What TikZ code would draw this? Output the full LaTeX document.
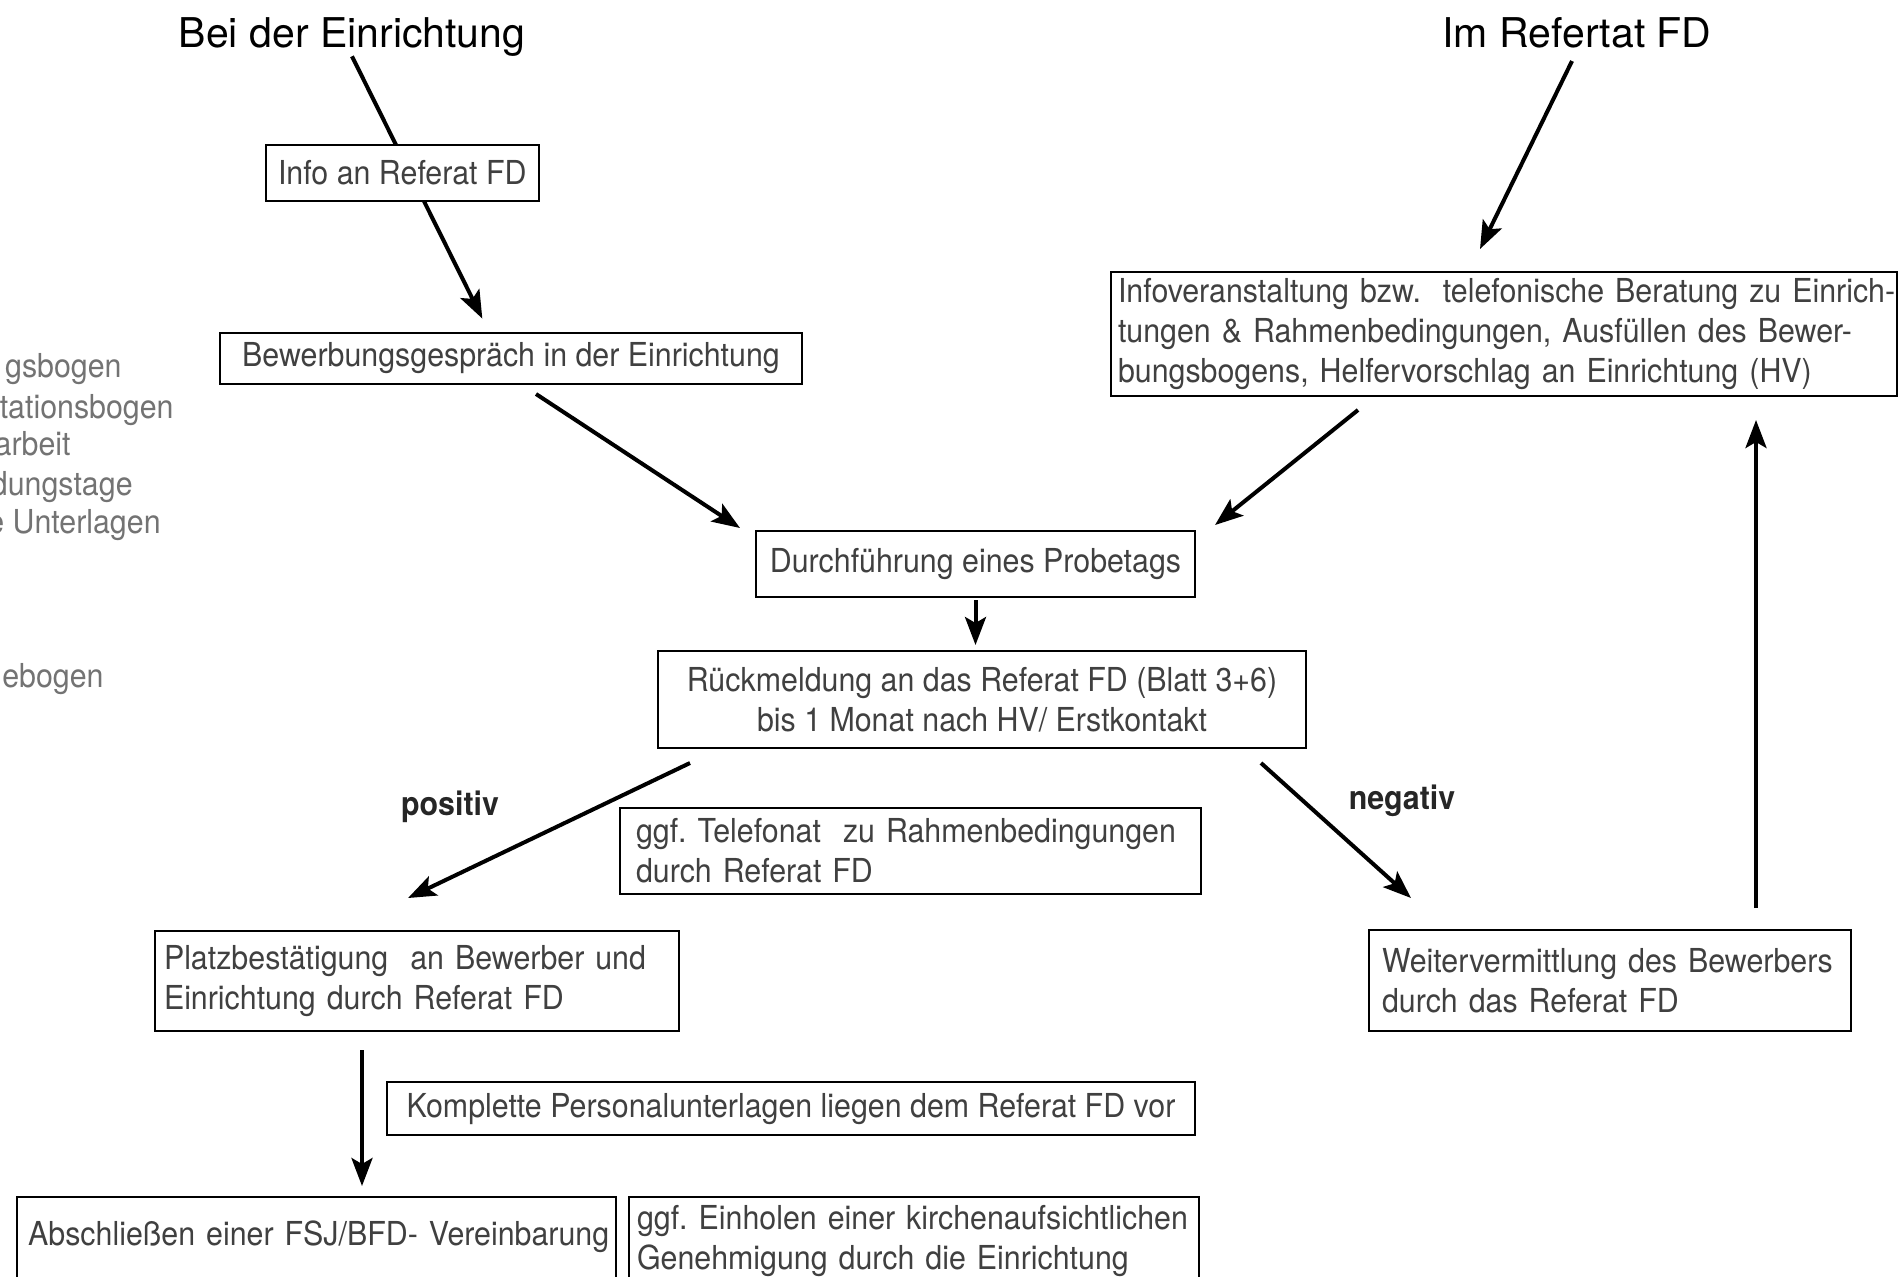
\documentclass[tikz,border=0pt]{standalone}
\usepackage{fontspec}
\setmainfont{TeX Gyre Heros}
\newfontfamily\narrowfont[FakeStretch=0.92]{TeX Gyre Heros}
\usetikzlibrary{positioning, arrows.meta, calc, backgrounds}
\definecolor{txtgray}{gray}{0.25}
\definecolor{fraggray}{gray}{0.45}
\tikzset{
    base/.style={draw, line width=1pt, fill=white, text=txtgray, font=\narrowfont\fontsize{16.5}{20}\selectfont\frenchspacing, anchor=north west},
    box/.style={base, align=center, inner xsep=6pt, inner ysep=3pt},
    leftbox/.style={base, align=left, inner ysep=3pt},
    title/.style={font=\fontsize{20.5}{24}\selectfont, anchor=base, inner sep=0pt},
    lbl/.style={font=\narrowfont\bfseries\fontsize{16.5}{20}\selectfont, text=black!85},
    frag/.style={font=\narrowfont\fontsize{16.5}{20}\selectfont, text=fraggray, anchor=mid east, inner sep=0pt},
    arrow/.style={-{Stealth[length=14pt, width=10.5pt, inset=3pt]}, line width=2pt}
}

\begin{document}
\begin{tikzpicture}[x=0.5pt, y=-0.5pt]
    \path[use as bounding box, clip] (0,0) rectangle (1898,1276);

    % Titles
    \node [title] (einr) at (352,47) {Bei der Einrichtung};
    \node [title] (refd) at (1577,47) {Im Refertat FD};

    % Left column
    \node [box, minimum width=136pt, minimum height=28pt] (info) at (265,144) {Info an Referat FD};
    \node [box, minimum width=291pt, minimum height=25.5pt] (bew) at (219,332) {Bewerbungsgespräch in der Einrichtung};

    % Right column
    \node [leftbox, text width=386pt, inner xsep=3.5pt, minimum height=62pt] (info2) at (1110,271)
        {\mbox{Infoveranstaltung bzw.\ \ telefonische Beratung zu Einrich-}\\tungen \& Rahmenbedingungen, Ausfüllen des Bewer-\\bungsbogens, Helfervorschlag an Einrichtung (HV)};

    % Middle
    \node [box, minimum width=219.5pt, minimum height=33pt] (durch) at (755,530) {Durchführung eines Probetags};
    \node [box, minimum width=324pt, minimum height=48.5pt] (rueck) at (657,650)
        {Rückmeldung an das Referat FD (Blatt 3+6)\\bis 1 Monat nach HV/ Erstkontakt};
    \node [leftbox, text width=274.5pt, inner xsep=8pt, minimum height=43pt] (tele) at (619,807)
        {\mbox{ggf. Telefonat\ \ zu Rahmenbedingungen}\\durch Referat FD};

    % Outcomes
    \node [leftbox, text width=253pt, inner xsep=4.5pt, minimum height=50pt] (plat) at (154,930)
        {Platzbestätigung\ \ an Bewerber und\\Einrichtung durch Referat FD};
    \node [leftbox, text width=228pt, inner xsep=6.5pt, minimum height=50.5pt] (weiter) at (1368,929)
        {\mbox{Weitervermittlung des Bewerbers}\\durch das Referat FD};
    \node [lbl] (lpos) at (450,807) {positiv};
    \node [lbl] (lneg) at (1402,801) {negativ};

    % Bottom
    \node [box, minimum width=404pt, minimum height=26.5pt] (kompl) at (386,1081) {Komplette Personalunterlagen liegen dem Referat FD vor};
    \node [leftbox, text width=288.5pt, inner xsep=5.5pt, inner ysep=10pt, text height=14pt, text depth=40pt] (abs) at (16,1196)
        {\mbox{Abschließen einer FSJ/BFD- Vereinbarung}};
    \node [leftbox, text width=277pt, inner xsep=4pt, inner ysep=2pt, text height=14pt, text depth=40pt] (einh) at (628,1196)
        {\mbox{ggf. Einholen einer kirchenaufsichtlichen}\\Genehmigung durch die Einrichtung};

    % Cut-off list at the left edge
    \node [frag] (f1) at (122,372) {gsbogen};
    \node [frag] (f2) at (174,413) {tationsbogen};
    \node [frag] (f3) at (71,450) {arbeit};
    \node [frag] (f4) at (133,490) {dungstage};
    \node [frag] (f5) at (161,528) {e Unterlagen};
    \node [frag] (f6) at (104,682) {ebogen};

    % Connections
    \begin{scope}[on background layer]
        \draw [arrow, shorten >=7.5pt] (einr.south) -- ($(bew.north)+(-22,0)$);
    \end{scope}
    \draw [arrow] ($(bew.south)+(25,9)$) -- ($(durch.north west)+(-15,-2)$);
    \draw [arrow, shorten <=1pt, shorten >=2.5pt] (durch.south) -- (durch.south |- rueck.north);

    \draw [arrow] ($(refd.south)+(-5,13)$) -- ($(info2.north)+(-24,-22)$);
    \draw [arrow] ($(info2.south)+(-146,13)$) -- ($(durch.north east)+(19,-5)$);

    \draw [arrow] ($(rueck.south west)+(33,14)$) -- ($(plat.north)+(-9,-32)$);
    \draw [arrow] ($(rueck.south east)+(-46,14)$) -- ($(weiter.north west)+(43,-31)$);
    \draw [arrow] ($(weiter.north west)+(388,-21)$) -- ($(info2.south west)+(646,23)$);
    \draw [arrow] ($(plat.south west)+(208,18)$) -- ($(abs.north west)+(346,-10)$);
\end{tikzpicture}
\end{document}
